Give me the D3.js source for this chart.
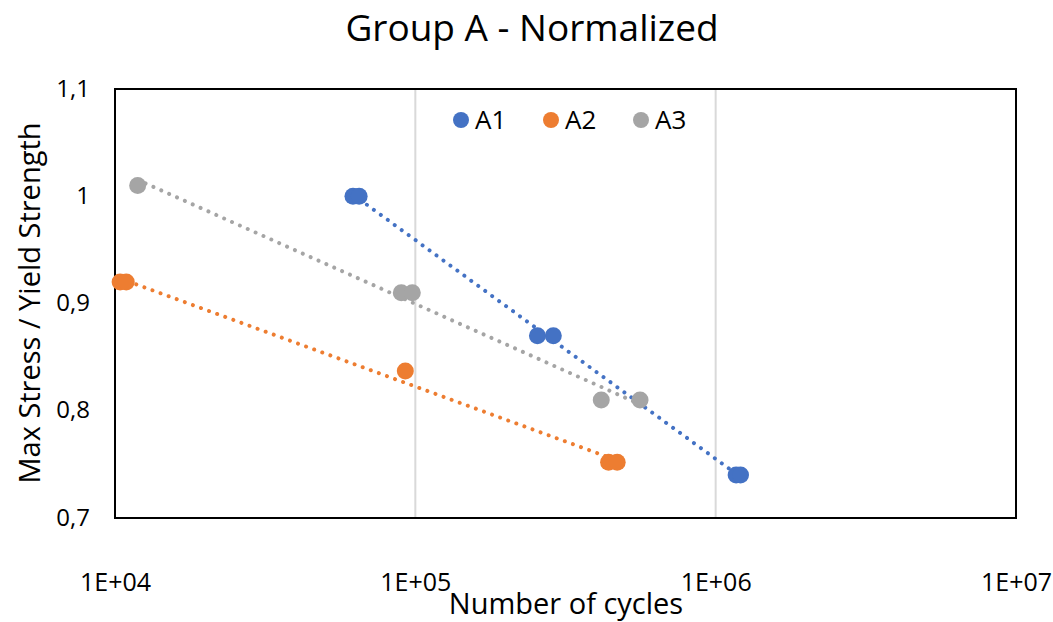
<!DOCTYPE html>
<html>
<head>
<meta charset="utf-8">
<script src="https://cdn.jsdelivr.net/npm/d3@7"></script>
<style>
  body { margin: 0; background: #fff; }
  text { font-family: "Open Sans", sans-serif; fill: #000; }
</style>
</head>
<body>
<script>
"use strict";
// values
const seriesNames = ["A1", "A2", "A3"];
const seriesColors = ["#4472C4", "#ED7D31", "#A5A5A5"];
const a1Cycles = [62000, 65000, 255000, 288000, 1170000, 1210000];
const a1Stress = [1.0, 1.0, 0.87, 0.87, 0.74, 0.74];
const a2Cycles = [10400, 10900, 92600, 440000, 470000];
const a2Stress = [0.92, 0.92, 0.837, 0.752, 0.752];
const a3Cycles = [11900, 89800, 97700, 416000, 560000];
const a3Stress = [1.01, 0.91, 0.91, 0.81, 0.81];
const xTicks = [1e4, 1e5, 1e6, 1e7];
const yTicks = [0.7, 0.8, 0.9, 1.0, 1.1];

const W = 1053, H = 622;
const plot = {left: 115, right: 1016, top: 89, bottom: 518};

const svg = d3.select("body").append("svg").attr("width", W).attr("height", H);

const x = d3.scaleLog().domain([1e4, 1e7]).range([plot.left, plot.right]);
const y = d3.scaleLinear().domain([0.7, 1.1]).range([plot.bottom, plot.top]);

const data = [
  {name: seriesNames[0], color: seriesColors[0], pts: a1Cycles.map((c, i) => [c, a1Stress[i]])},
  {name: seriesNames[1], color: seriesColors[1], pts: a2Cycles.map((c, i) => [c, a2Stress[i]])},
  {name: seriesNames[2], color: seriesColors[2], pts: a3Cycles.map((c, i) => [c, a3Stress[i]])},
];

// title
svg.append("text").attr("x", 532).attr("y", 41).attr("text-anchor", "middle")
  .style("font-size", "37px").text("Group A - Normalized");

// vertical gridlines
svg.append("g").selectAll("line").data(xTicks.slice(1, -1)).enter().append("line")
  .attr("x1", d => x(d)).attr("x2", d => x(d))
  .attr("y1", plot.top).attr("y2", plot.bottom)
  .attr("stroke", "#d9d9d9").attr("stroke-width", 2);

// axes (labels only, the frame is drawn separately)
const xAxis = d3.axisBottom(x).tickValues(xTicks).tickSize(0).tickPadding(55)
  .tickFormat(d => "1E+" + String(Math.round(Math.log10(d))).padStart(2, "0"));
const gx = svg.append("g").attr("transform", `translate(0,${plot.bottom})`).call(xAxis);
gx.select(".domain").remove();
gx.selectAll("text").style("font-size", "25px").style("font-family", "Open Sans, sans-serif");

const yAxis = d3.axisLeft(y).tickValues(yTicks).tickSize(0).tickPadding(25)
  .tickFormat(d => d3.format(".1f")(d).replace(".", ","));
const gy = svg.append("g").attr("transform", `translate(${plot.left},0)`).call(yAxis);
gy.select(".domain").remove();
gy.selectAll("text").style("font-size", "24px").style("font-family", "Open Sans, sans-serif")
  .attr("dy", "0.3em");
gy.selectAll("text").filter(d => d === 1.0).text("1");

// frame
svg.append("rect").attr("x", plot.left).attr("y", plot.top)
  .attr("width", plot.right - plot.left).attr("height", plot.bottom - plot.top)
  .attr("fill", "none").attr("stroke", "#000").attr("stroke-width", 2);

// axis titles
svg.append("text").attr("x", 566).attr("y", 614).attr("text-anchor", "middle")
  .style("font-size", "29px").text("Number of cycles");
svg.append("text").attr("transform", "translate(40,303) rotate(-90)").attr("text-anchor", "middle")
  .style("font-size", "29px").text("Max Stress / Yield Strength");

// logarithmic trendlines (least squares on log10 of cycles)
function fit(pts) {
  const lx = pts.map(p => Math.log10(p[0])), ys = pts.map(p => p[1]);
  const mx = d3.mean(lx), my = d3.mean(ys);
  const slope = d3.sum(lx, (v, i) => (v - mx) * (ys[i] - my)) / d3.sum(lx, v => (v - mx) ** 2);
  const f = c => my + slope * (Math.log10(c) - mx);
  const ext = d3.extent(pts, p => p[0]);
  return ext.map(c => [c, f(c)]);
}
const line = d3.line().x(d => x(d[0])).y(d => y(d[1]));

data.forEach(s => {
  svg.append("path").datum(fit(s.pts)).attr("d", line)
    .attr("fill", "none").attr("stroke", s.color).attr("stroke-width", 4)
    .attr("stroke-linecap", "round").attr("stroke-dasharray", "0.01 8.6");
});

data.forEach(s => {
  svg.append("g").selectAll("circle").data(s.pts).enter().append("circle")
    .attr("cx", d => x(d[0])).attr("cy", d => y(d[1])).attr("r", 8.5)
    .attr("fill", s.color);
});

// legend
const legendX = [461, 551, 641];
const lg = svg.append("g").selectAll("g").data(data).enter().append("g")
  .attr("transform", (d, i) => `translate(${legendX[i]},120)`);
lg.append("circle").attr("r", 8).attr("fill", d => d.color);
lg.append("text").attr("x", 14).attr("dy", "0.36em").style("font-size", "26px").text(d => d.name);
</script>
</body>
</html>
